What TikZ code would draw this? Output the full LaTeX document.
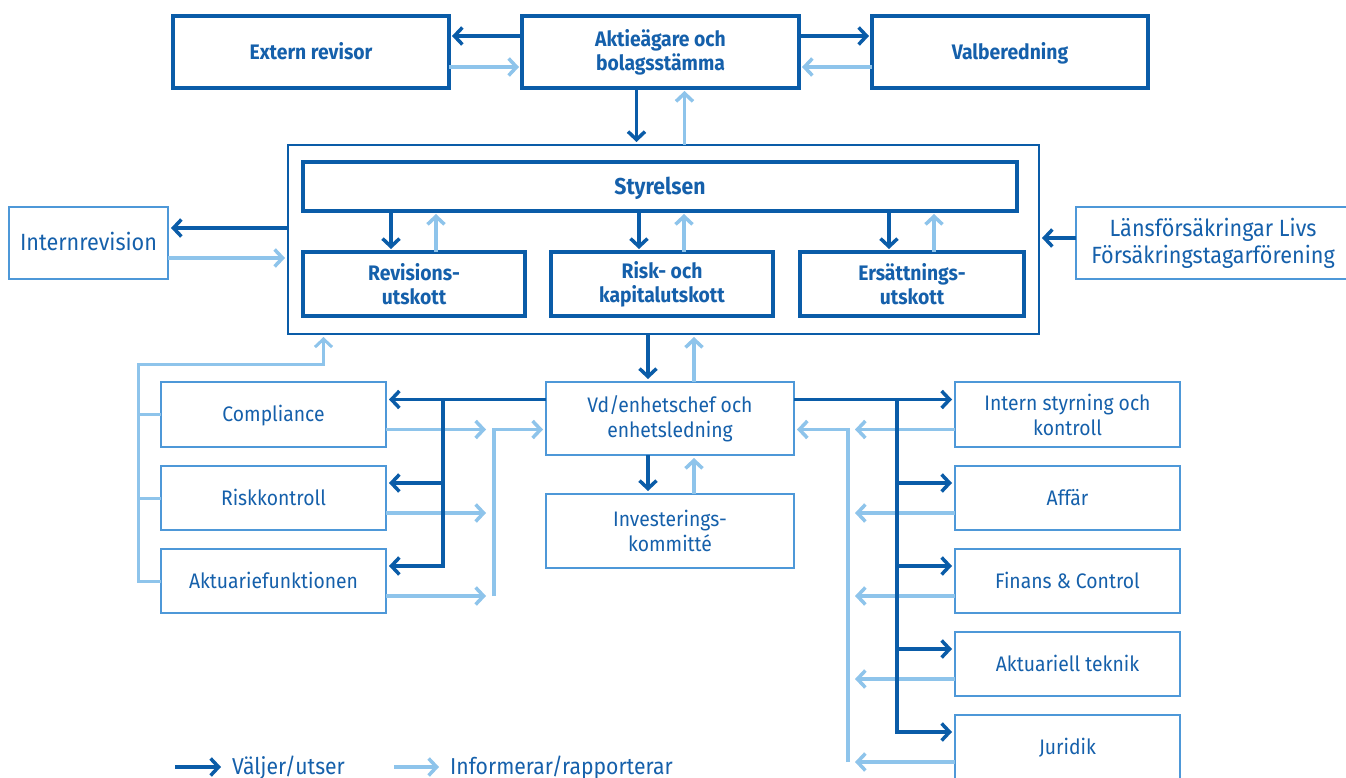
\documentclass[tikz,border=0pt]{standalone}
\usepackage{fontspec}
\setmainfont[FakeStretch=0.92]{Fira Sans}
\usetikzlibrary{arrows.meta,calc}
\definecolor{dkb}{HTML}{0A5CA8}
\definecolor{ltb}{HTML}{8EC4EB}
\definecolor{mdb}{HTML}{4E98D8}
\definecolor{txb}{HTML}{1560AB}
\begin{document}
\begin{tikzpicture}[x=1pt,y=-1pt,
 bbox/.style={draw=dkb,line width=3.5pt,inner sep=0pt,outer sep=0pt,align=center,text=txb,font=\fontsize{21}{24}\bfseries\selectfont},
 lbox/.style={draw=mdb,line width=2.5pt,inner sep=0pt,outer sep=0pt,align=center,text=txb,font=\fontsize{21}{25}\selectfont},
 oneline/.style={text height=14.5pt,text depth=0pt},
 dk/.style={draw=dkb,line width=3.5pt,-{Straight Barb[length=8pt,width=17pt]},shorten >=3pt},
 lt/.style={draw=ltb,line width=3.5pt,-{Straight Barb[length=8pt,width=17pt]},shorten >=3pt},
 dkl/.style={draw=dkb,line width=3.5pt},
 ltl/.style={draw=ltb,line width=3pt},
 lgtext/.style={anchor=base west,inner sep=0pt,text=txb,font=\fontsize{23}{26}\selectfont}]
\useasboundingbox[fill=white] (0,0) rectangle (1346,778);
% top row
\node[bbox,oneline,minimum width=276,minimum height=72] (ext) at (311,52) {Extern revisor};
\node[bbox,minimum width=277,minimum height=72] (ak) at (660.5,52) {Aktieägare och\\bolagsstämma};
\node[bbox,oneline,minimum width=276,minimum height=72] (val) at (1010,52) {Valberedning};
% board area
\node[draw=dkb,line width=2.2pt,inner sep=0pt,outer sep=0pt,minimum width=751,minimum height=189] (out) at (663.5,239.5) {};
\node[bbox,oneline,text height=16pt,minimum width=714,minimum height=49,font=\fontsize{23}{26}\bfseries\selectfont] (sty) at (660,186.5) {Styrelsen};
\node[bbox,minimum width=222,minimum height=64] (rev) at (414,284) {Revisions-\\utskott};
\node[bbox,minimum width=222,minimum height=64] (rsk) at (662,284) {Risk- och\\kapitalutskott};
\node[bbox,minimum width=224,minimum height=64] (ers) at (912,284) {Ersättnings-\\utskott};
% side boxes
\node[lbox,oneline,text height=16pt,minimum width=159,minimum height=72,font=\fontsize{23.5}{27}\selectfont] (ir) at (88.5,243) {Internrevision};
\node[lbox,minimum width=274,minimum height=72,font=\fontsize{23.5}{27}\selectfont] (lf) at (1213,243) {Länsförsäkringar Livs\\Försäkringstagarförening};
% management
\node[lbox,minimum width=248,minimum height=73] (vd) at (670,418.5) {Vd/enhetschef och\\enhetsledning};
\node[lbox,minimum width=248,minimum height=74] (inv) at (670,531) {Investerings-\\kommitté};
% left functions
\node[lbox,oneline,minimum width=225,minimum height=65] (cmp) at (273.5,414.5) {Compliance};
\node[lbox,oneline,minimum width=225,minimum height=64] (rk) at (273.5,498) {Riskkontroll};
\node[lbox,oneline,minimum width=225,minimum height=64] (akf) at (273.5,581) {Aktuariefunktionen};
% right functions
\node[lbox,minimum width=225,minimum height=65] (isk) at (1067.5,414.5) {Intern styrning och\\kontroll};
\node[lbox,oneline,minimum width=225,minimum height=64] (aff) at (1067.5,498) {Affär};
\node[lbox,oneline,minimum width=225,minimum height=64] (fin) at (1067.5,581) {Finans \& Control};
\node[lbox,oneline,minimum width=225,minimum height=64] (akt) at (1067.5,664) {Aktuariell teknik};
\node[lbox,oneline,minimum width=225,minimum height=64] (jur) at (1067.5,747) {Juridik};
% top connectors
\draw[dk] ([yshift=16]ak.west) -- ([yshift=16]ext.east);
\draw[lt] ([yshift=-15]ext.east) -- ([yshift=-15]ak.west);
\draw[dk] ([yshift=16]ak.east) -- ([yshift=16]val.west);
\draw[lt] ([yshift=-15]val.west) -- ([yshift=-15]ak.east);
\coordinate (a1) at ([xshift=-24]ak.south);
\draw[dk] (a1) -- (a1 |- out.north);
\coordinate (a2) at ([xshift=24]ak.south);
\draw[lt] (a2 |- out.north) -- (a2);
% board to committees
\foreach \n in {rev,rsk,ers}{
 \coordinate (\n-d) at ([xshift=-23]\n.north);
 \draw[dk] (\n-d |- sty.south) -- (\n-d);
 \coordinate (\n-u) at ([xshift=22]\n.north);
 \draw[lt] (\n-u) -- (\n-u |- sty.south);
}
% internal audit and policyholders
\coordinate (i1) at ([yshift=15]ir.east);
\draw[dk] (out.west |- i1) -- (i1);
\coordinate (i2) at ([yshift=-15]ir.east);
\draw[lt] (i2) -- (out.west |- i2);
\coordinate (l1) at ([yshift=5]lf.west);
\draw[dk] (l1) -- (out.east |- l1);
% board to vd, vd to inv
\coordinate (v1) at ([xshift=-22]vd.north);
\draw[dk] (v1 |- out.south) -- (v1);
\coordinate (v2) at ([xshift=24]vd.north);
\draw[lt] (v2) -- (v2 |- out.south);
\coordinate (v3) at ([xshift=-22]inv.north);
\draw[dk] (v3 |- vd.south) -- (v3);
\coordinate (v4) at ([xshift=24]inv.north);
\draw[lt] (v4) -- (v4 |- vd.south);
% left bracket to board
\coordinate (lb) at (138,364);
\draw[ltl] (cmp.west) -- (lb |- cmp.west);
\draw[ltl] (rk.west) -- (lb |- rk.west);
\draw[lt,line width=3pt] (akf.west) -| (lb) -| ([xshift=-340]out.south);
% left light connectors
\coordinate (ll) at (489,0);
\coordinate (lm) at (494,0);
\foreach \n in {cmp,rk,akf}{
 \coordinate (\n-l) at ([yshift=-15]\n.east);
 \draw[lt] (\n-l) -- (ll |- \n-l);
}
\draw[lt] (lm |- akf-l) |- (vd.west |- cmp-l);
% left dark connectors
\coordinate (jl) at (443,0);
\foreach \n in {cmp,rk,akf}{
 \coordinate (\n-d) at ([yshift=15]\n.east);
}
\draw[dk] (vd.west |- cmp-d) -- (cmp-d);
\draw[dk] (jl |- cmp-d) |- (akf-d);
\draw[dk] (jl |- rk-d) -- (rk-d);
% right light connectors
\coordinate (lr) at (852,0);
\coordinate (lm2) at (848,0);
\foreach \n in {isk,aff,fin,akt,jur}{
 \coordinate (\n-l) at ([yshift=-15]\n.west);
 \draw[lt] (\n-l) -- (lr |- \n-l);
 \coordinate (\n-d) at ([yshift=15]\n.west);
}
\draw[lt] (lm2 |- jur-l) |- (vd.east |- isk-l);
% right dark connectors
\coordinate (jr) at (897,0);
\draw[dk] (vd.east |- isk-d) -- (isk-d);
\draw[dk] (jr |- isk-d) |- (jur-d);
\foreach \n in {aff,fin,akt}{
 \draw[dk] (jr |- \n-d) -- (\n-d);
}
% legend
\node[lgtext] (lg1) at (232,774) {Väljer/utser};
\node[lgtext] (lg2) at (450,774) {Informerar/rapporterar};
\coordinate (lg1a) at (175,767);
\coordinate (lg2a) at (394,767);
\draw[dk,shorten >=11pt] (lg1a) -- (lg1a -| lg1.west);
\draw[lt,shorten >=11pt] (lg2a) -- (lg2a -| lg2.west);
\end{tikzpicture}
\end{document}
